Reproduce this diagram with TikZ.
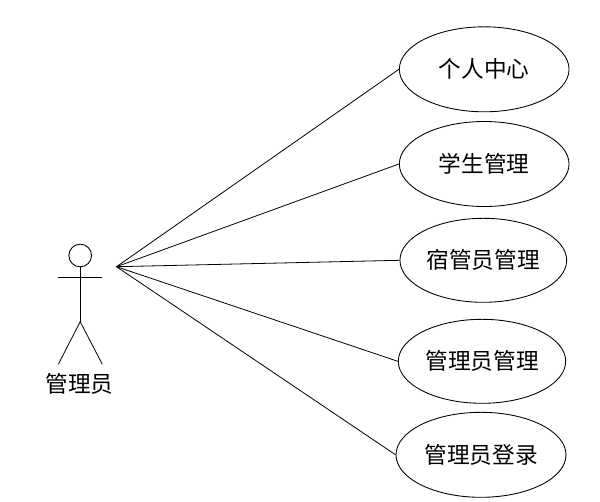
\documentclass[tikz,border=0pt]{standalone}
\usepackage{fontspec}
\usetikzlibrary{shapes.geometric}
\newfontfamily\cjk{Noto Sans CJK SC}
\newcommand{\liftlabel}[1]{\raisebox{0.8pt}{#1}}
\tikzset{
  uc/.style 2 args={draw,ellipse,line width=0.65pt,inner sep=0pt,minimum width=#1*0.75pt,minimum height=#2*0.75pt,font=\cjk\fontsize{17}{20}\selectfont},
  ln/.style={line width=0.6pt}
}
\begin{document}
\begin{tikzpicture}[x=0.75pt,y=-0.75pt]
\useasboundingbox (0,0) rectangle (600,501);
\fill[white] (0,0) rectangle (600,501);
\coordinate (hub) at (116.5,266.7);
\node[uc={169.7}{85}] (a) at (484.2,69.3) {\liftlabel{个人中心}};
\node[uc={169.7}{85}] (b) at (484.2,164) {\liftlabel{学生管理}};
\node[uc={166.7}{84}] (c) at (483.3,260.3) {\liftlabel{宿管员管理}};
\node[uc={167.4}{84}] (d) at (482,361.3) {\liftlabel{管理员管理}};
\node[uc={170}{85}] (e) at (481,454.8) {\liftlabel{管理员登录}};
\foreach \n in {a,b,c,d,e} \draw[ln] (hub) -- (\n.west);
\node[draw,circle,line width=0.65pt,minimum size=17pt,inner sep=0pt] (head) at (80.2,255.5) {};
\coordinate (hip) at (80.2,321.7);
\coordinate (armL) at (58.3,277.7);
\coordinate (armR) at (102.3,277.7);
\coordinate (footL) at (58.3,364.3);
\coordinate (footR) at (102.3,364.3);
\draw[ln] (head) -- (hip);
\draw[ln] (armL) -- (armR);
\draw[ln] (footL) -- (hip) -- (footR);
\node[font=\cjk\fontsize{17}{20}\selectfont,inner sep=0pt] (lab) at (79.5,384) {管理员};
\end{tikzpicture}
\end{document}
